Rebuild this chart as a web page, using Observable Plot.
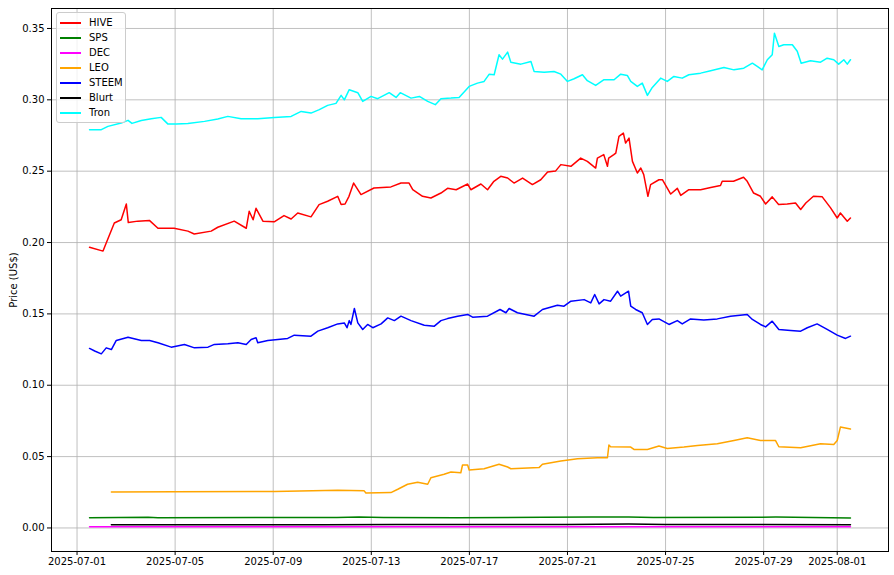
<!DOCTYPE html>
<html><head><meta charset="utf-8">
<script src="https://cdn.jsdelivr.net/npm/d3@7"></script>
<script src="https://cdn.jsdelivr.net/npm/@observablehq/plot@0.6"></script>
<style>
body{margin:0;background:#fff;font-family:"DejaVu Sans",sans-serif;}
#wrap{position:relative;width:894px;height:575px;}
#legend{position:absolute;left:56px;top:12px;width:68px;padding:2px 0 2px 0;background:rgba(255,255,255,0.8);border:1px solid #ccc;border-radius:3px;font-size:10px;}
#legend .row{display:flex;align-items:center;height:15px;}
#legend .sw{width:21px;height:2px;margin-left:3px;margin-right:8px;}
</style></head>
<body><div id="wrap"><div id="legend"></div></div>
<script>
// time = days since 2025-07-01 00:00 UTC
const hiveDays=[0.51,1.06,1.19,1.52,1.80,2.01,2.09,2.48,2.95,3.30,3.96,4.52,4.78,5.47,5.74,6.41,6.90,7.02,7.18,7.30,7.58,8.04,8.44,8.73,9.00,9.54,9.87,10.22,10.63,10.77,10.93,11.09,11.28,11.58,12.11,12.80,13.21,13.54,13.69,14.09,14.43,14.84,15.11,15.46,15.93,16.06,16.47,16.74,17.00,17.28,17.56,17.82,18.17,18.57,18.91,19.19,19.52,19.73,20.14,20.54,20.81,21.15,21.22,21.48,21.63,21.68,21.89,21.97,22.10,22.28,22.37,22.51,22.65,22.85,22.99,23.11,23.28,23.39,23.73,23.87,24.21,24.48,24.62,24.95,25.43,25.84,26.24,26.31,26.77,27.18,27.33,27.59,27.87,28.08,28.35,28.61,28.96,29.30,29.51,29.72,30.03,30.39,30.73,31.00,31.13,31.41,31.54];
const hiveVals=[0.1967,0.194,0.1997,0.2137,0.216,0.227,0.214,0.215,0.2155,0.210,0.210,0.208,0.206,0.208,0.2107,0.215,0.210,0.2219,0.216,0.224,0.215,0.2145,0.2189,0.2165,0.2207,0.218,0.2266,0.2289,0.2324,0.2266,0.227,0.2324,0.2417,0.2336,0.2382,0.239,0.2417,0.2417,0.237,0.2324,0.2312,0.2347,0.238,0.237,0.241,0.237,0.241,0.237,0.2429,0.2464,0.2452,0.2417,0.2452,0.2406,0.244,0.2494,0.2502,0.2546,0.2534,0.2592,0.2569,0.2522,0.2592,0.2616,0.2534,0.2592,0.2616,0.2627,0.2744,0.2767,0.2697,0.2732,0.2569,0.2487,0.2522,0.2476,0.2324,0.2406,0.244,0.244,0.234,0.238,0.233,0.237,0.237,0.2386,0.24,0.2429,0.2429,0.2457,0.2429,0.2347,0.2324,0.227,0.232,0.2266,0.227,0.2277,0.2231,0.2277,0.2324,0.232,0.2243,0.2172,0.2207,0.2149,0.2172];

const spsDays=[0.51,2.9,3.3,10.6,11.5,12.5,15.5,19.0,21.0,22.5,23.5,28.5,30.0,31.54];
const spsVals=[0.0072,0.0075,0.0072,0.0074,0.0076,0.0073,0.0072,0.0075,0.0076,0.0077,0.0073,0.0076,0.0073,0.0070];

const decDays=[0.51,10.0,20.0,31.54];
const decVals=[0.0008,0.0008,0.0008,0.0008];

const leoDays=[1.40,3.98,8.05,10.63,11.71,11.78,12.80,13.08,13.48,13.89,14.30,14.43,14.97,15.25,15.65,15.72,15.93,15.99,16.60,17.21,17.56,17.69,18.84,18.98,19.73,20.41,21.22,21.63,21.69,21.76,22.58,22.71,23.26,23.73,24.07,24.75,25.30,26.11,26.79,27.33,27.87,28.48,28.62,29.51,30.32,30.86,31.00,31.13,31.54];
const leoVals=[0.0252,0.0254,0.0256,0.0264,0.026,0.0245,0.0248,0.0271,0.0306,0.032,0.0306,0.0352,0.0376,0.0392,0.0387,0.0441,0.0441,0.0406,0.0415,0.0446,0.0427,0.0415,0.0423,0.0446,0.0469,0.0485,0.0492,0.0492,0.0581,0.0569,0.0567,0.055,0.055,0.0574,0.0557,0.0567,0.0578,0.059,0.0613,0.0632,0.0613,0.0613,0.0569,0.0562,0.059,0.0585,0.0613,0.0707,0.0693];

const steemDays=[0.51,0.72,0.99,1.19,1.40,1.60,2.08,2.62,2.96,3.30,3.84,4.38,4.79,5.34,5.60,6.15,6.56,6.90,7.10,7.30,7.37,7.78,8.19,8.59,8.86,9.54,9.82,10.22,10.63,10.90,11.01,11.10,11.17,11.31,11.45,11.65,11.85,12.06,12.40,12.67,12.94,13.21,13.62,14.16,14.57,14.84,15.11,15.52,15.93,16.13,16.74,17.25,17.49,17.62,17.96,18.64,18.98,19.59,19.86,20.14,20.68,20.95,21.11,21.29,21.49,21.76,22.04,22.17,22.49,22.58,22.78,23.05,23.26,23.46,23.73,24.14,24.48,24.68,25.02,25.56,26.11,26.65,27.33,27.54,27.87,28.08,28.35,28.62,29.10,29.51,29.78,30.18,30.59,31.00,31.34,31.54];
const steemVals=[0.1258,0.124,0.122,0.1262,0.125,0.1314,0.1337,0.1314,0.1314,0.1298,0.1267,0.1286,0.1262,0.1267,0.1286,0.129,0.1298,0.1286,0.1321,0.1333,0.1298,0.1314,0.1321,0.1328,0.1351,0.1344,0.1379,0.1403,0.143,0.1437,0.1403,0.1453,0.1426,0.1538,0.1437,0.1391,0.1426,0.1403,0.143,0.1472,0.1453,0.1484,0.1453,0.1421,0.1414,0.1453,0.1467,0.1484,0.1496,0.1477,0.1484,0.1531,0.1508,0.1538,0.1508,0.1484,0.1531,0.1561,0.1554,0.1589,0.16,0.1577,0.1636,0.157,0.16,0.1589,0.1659,0.1624,0.1659,0.1554,0.1531,0.1508,0.1426,0.1461,0.1465,0.1426,0.1453,0.143,0.1465,0.1458,0.1465,0.1484,0.1496,0.1461,0.1426,0.1409,0.1449,0.1391,0.1384,0.1379,0.1403,0.143,0.1391,0.1351,0.1328,0.1344];

const blurtDays=[1.40,10.0,13.0,20.0,22.5,24.0,31.54];
const blurtVals=[0.0022,0.0022,0.0024,0.0024,0.0027,0.0024,0.0023];

const tronDays=[0.51,0.99,1.26,1.80,2.08,2.24,2.62,3.03,3.43,3.71,4.05,4.52,5.20,5.74,6.15,6.69,7.37,8.05,8.73,9.14,9.54,9.88,10.22,10.56,10.77,10.90,11.10,11.45,11.65,11.99,12.26,12.73,13.01,13.18,13.62,13.96,14.30,14.61,14.84,15.25,15.58,15.99,16.33,16.60,16.81,17.01,17.21,17.35,17.56,17.69,18.10,18.51,18.64,19.05,19.45,19.73,20.00,20.27,20.61,20.81,21.15,21.49,21.90,22.17,22.44,22.58,22.85,23.05,23.26,23.46,23.80,24.07,24.34,24.68,24.95,25.43,25.84,26.38,26.79,27.19,27.54,27.74,27.94,28.15,28.35,28.44,28.62,28.82,29.17,29.37,29.53,29.91,30.32,30.59,30.86,31.06,31.27,31.41,31.54];
const tronVals=[0.2791,0.2791,0.2814,0.2837,0.2856,0.2835,0.2855,0.2867,0.2877,0.283,0.283,0.2834,0.2849,0.2865,0.2884,0.2867,0.2867,0.2877,0.2884,0.2919,0.2907,0.2931,0.2961,0.2975,0.3031,0.300,0.3071,0.305,0.2989,0.3024,0.3008,0.305,0.3017,0.305,0.3012,0.3024,0.2989,0.2966,0.3008,0.3012,0.3017,0.3094,0.3117,0.3129,0.318,0.3176,0.3316,0.3285,0.3334,0.3264,0.325,0.3269,0.3199,0.3194,0.3199,0.318,0.3129,0.3148,0.3176,0.3134,0.3101,0.3141,0.3141,0.318,0.3171,0.3129,0.3094,0.3117,0.3031,0.3087,0.3152,0.3129,0.3164,0.3152,0.3176,0.3187,0.3204,0.3227,0.321,0.3222,0.3257,0.3234,0.321,0.3281,0.3316,0.3467,0.3374,0.3386,0.3386,0.334,0.3257,0.3274,0.3264,0.3292,0.3281,0.325,0.3281,0.325,0.3281];

const seriesNames=["HIVE","SPS","DEC","LEO","STEEM","Blurt","Tron"];
const seriesColors=["red","green","magenta","orange","blue","black","cyan"];
const xTicks=["2025-07-01","2025-07-05","2025-07-09","2025-07-13","2025-07-17","2025-07-21","2025-07-25","2025-07-29","2025-08-01"];
const yTicks=[0,0.05,0.10,0.15,0.20,0.25,0.30,0.35];

const base=Date.UTC(2025,6,1);
const toDate=d=>new Date(base+d*864e5);
const all=[[hiveDays,hiveVals],[spsDays,spsVals],[decDays,decVals],[leoDays,leoVals],[steemDays,steemVals],[blurtDays,blurtVals],[tronDays,tronVals]];
const series=all.map(([ds,vs],i)=>ds.map((d,j)=>({date:toDate(d),value:vs[j],name:seriesNames[i]})));

// matplotlib-like 5% margins
const allDays=all.flatMap(a=>a[0]), allVals=all.flatMap(a=>a[1]);
const d0=d3.min(allDays), d1=d3.max(allDays), v0=d3.min(allVals), v1=d3.max(allVals);
const xDom=[toDate(d0-(d1-d0)*0.05),toDate(d1+(d1-d0)*0.05)];
const yDom=[v0-(v1-v0)*0.05,v1+(v1-v0)*0.05];

const marks=[
  Plot.gridX(xTicks.map(s=>new Date(s+"T00:00:00Z")),{stroke:"#b0b0b0",strokeOpacity:1,strokeWidth:0.8}),
  Plot.gridY(yTicks,{stroke:"#b0b0b0",strokeOpacity:1,strokeWidth:0.8}),
  ...series.map((s,i)=>Plot.line(s,{x:"date",y:"value",stroke:seriesColors[i],strokeWidth:1.5})),
  Plot.frame({stroke:"black",strokeWidth:1}),
  Plot.axisX(xTicks.map(s=>new Date(s+"T00:00:00Z")),{tickFormat:d3.utcFormat("%Y-%m-%d"),tickSize:4,tickPadding:2,label:null,fontSize:10}),
  Plot.axisY(yTicks,{tickFormat:d3.format(".2f"),tickSize:4,tickPadding:3,label:"Price (US$)",labelAnchor:"center",labelArrow:"none",labelOffset:42,fontSize:10})
];

const chart=Plot.plot({
  width:894,height:575,
  marginLeft:51,marginRight:6,marginTop:8,marginBottom:24,
  style:{fontFamily:"DejaVu Sans",fontSize:"10px",color:"black",background:"white"},
  x:{type:"utc",domain:xDom},
  y:{domain:yDom},
  marks
});
document.getElementById("wrap").prepend(chart);

const lg=document.getElementById("legend");
seriesNames.forEach((n,i)=>{
  const r=document.createElement("div");r.className="row";
  const sw=document.createElement("div");sw.className="sw";sw.style.background=seriesColors[i];
  const t=document.createElement("span");t.textContent=n;
  r.appendChild(sw);r.appendChild(t);lg.appendChild(r);
});
</script></body></html>
